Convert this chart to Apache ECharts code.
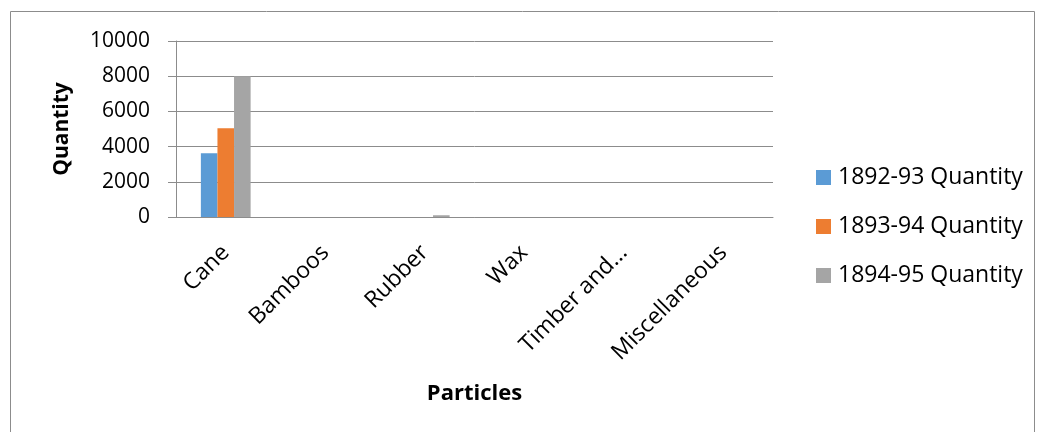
<!DOCTYPE html>
<html>
<head>
<meta charset="utf-8">
<script src="https://cdn.jsdelivr.net/npm/echarts@6/dist/echarts.min.js"></script>
<style>html,body{margin:0;padding:0;background:#fff}#c{width:1039px;height:432px}</style>
</head>
<body>
<div id="c"></div>
<script>
const categories = ["Cane", "Bamboos", "Rubber", "Wax", "Timber and...", "Miscellaneous"];
const seriesNames = ["1892-93 Quantity", "1893-94 Quantity", "1894-95 Quantity"];
const q1892 = [3620, 0, 0, 0, 0, 0];
const q1893 = [5040, 0, 0, 0, 0, 0];
const q1894 = [8000, 0, 100, 0, 0, 0];
const yTicks = [0, 2000, 4000, 6000, 8000, 10000];

const colors = ["#5b9bd5", "#ed7d31", "#a5a5a5"];
const font = "Open Sans";
const chart = echarts.init(document.getElementById('c'), null, {renderer: 'canvas'});
const data = [q1892, q1893, q1894];
chart.setOption({
  animation: false,
  textStyle: {fontFamily: font},
  graphic: [{
    type: 'rect',
    shape: {x: 10.5, y: 11.5, width: 1024, height: 440},
    style: {fill: 'none', stroke: '#8c8c8c', lineWidth: 1},
    silent: true
  }],
  grid: {left: 176, right: 266, top: 41, bottom: 215, containLabel: false},
  legend: {
    orient: 'vertical',
    left: 811,
    top: 160,
    itemWidth: 15,
    itemHeight: 15,
    itemGap: 24,
    icon: 'rect',
    textStyle: {fontFamily: font, fontSize: 23, lineHeight: 25, color: '#000', padding: [0, 0, 0, 2]},
    data: seriesNames
  },
  xAxis: {
    type: 'category',
    data: categories,
    name: 'Particles',
    nameLocation: 'middle',
    nameGap: 166,
    nameTextStyle: {fontFamily: font, fontSize: 22, fontWeight: 'bold', color: '#000'},
    axisLine: {lineStyle: {color: '#8c8c8c', width: 1}},
    axisTick: {show: false},
    axisLabel: {rotate: 45, fontFamily: font, fontSize: 23, color: '#000', margin: 32, interval: 0}
  },
  yAxis: {
    type: 'value',
    min: 0,
    max: 10000,
    interval: 2000,
    name: 'Quantity',
    nameLocation: 'middle',
    nameGap: 103,
    nameRotate: 90,
    nameTextStyle: {fontFamily: font, fontSize: 21, fontWeight: 'bold', color: '#000'},
    axisLine: {show: true, lineStyle: {color: '#8c8c8c', width: 1}},
    axisTick: {show: true, length: 8, lineStyle: {color: '#8c8c8c'}},
    splitLine: {lineStyle: {color: '#8c8c8c', width: 1}},
    axisLabel: {
      fontFamily: font, fontSize: 21, color: '#000', margin: 26,
      formatter: v => yTicks.includes(v) ? String(v) : ''
    }
  },
  series: seriesNames.map((n, i) => ({
    name: n,
    type: 'bar',
    data: data[i],
    barGap: '0%',
    barCategoryGap: '50%',
    itemStyle: {color: colors[i]}
  }))
});
</script>
</body>
</html>
